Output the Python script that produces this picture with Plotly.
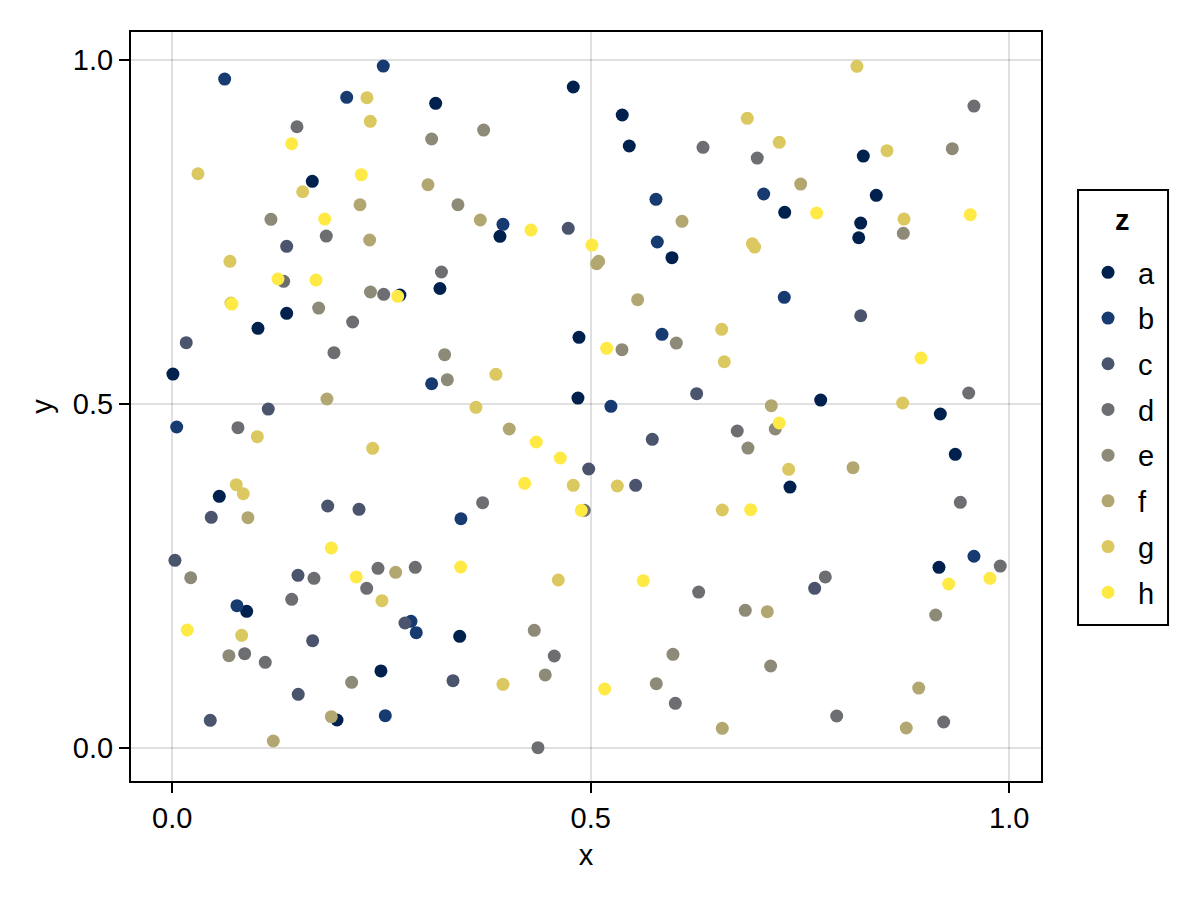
import plotly.graph_objects as go

categories = ["a", "b", "c", "d", "e", "f", "g", "h"]
colors = ["#00204D", "#173A70", "#4B546D", "#6C6E72", "#8E8A78", "#B3A771", "#DBC860", "#FFE945"]

x_a = [0.3147, 0.4791, 0.1673, 0.1367, 0.1024, 0.0008, 0.0562, 0.0889, 0.2493, 0.1968,
       0.5376, 0.5460, 0.3915, 0.5970, 0.3198, 0.2720, 0.4859, 0.4847, 0.8256, 0.8411,
       0.7317, 0.8225, 0.8201, 0.7747, 0.9176, 0.9355, 0.7380, 0.3434, 0.9160]
y_a = [0.9375, 0.9612, 0.8240, 0.6321, 0.6103, 0.5438, 0.3660, 0.1988, 0.1120, 0.0407,
       0.9205, 0.8754, 0.7441, 0.7130, 0.6682, 0.6587, 0.5972, 0.5089, 0.8608, 0.8037,
       0.7790, 0.7634, 0.7420, 0.5060, 0.4857, 0.4271, 0.3795, 0.1624, 0.2628]

x_b = [0.0626, 0.2521, 0.2084, 0.3099, 0.0053, 0.0773, 0.2852, 0.2915, 0.2545, 0.3951,
       0.5779, 0.5795, 0.7066, 0.7312, 0.5851, 0.5241, 0.3449, 0.9578]
y_b = [0.9728, 0.9917, 0.9462, 0.5297, 0.4668, 0.2069, 0.1842, 0.1677, 0.0470, 0.7615,
       0.7979, 0.7358, 0.8056, 0.6554, 0.6016, 0.4969, 0.3334, 0.2788]

x_c = [0.1367, 0.0167, 0.1147, 0.1857, 0.2231, 0.0466, 0.0032, 0.1502, 0.1677, 0.2780,
       0.1505, 0.0454, 0.4731, 0.6265, 0.5735, 0.4975, 0.5536, 0.8225, 0.3354, 0.7675]
y_c = [0.7295, 0.5894, 0.4929, 0.3519, 0.3471, 0.3355, 0.2729, 0.2511, 0.1560, 0.1818,
       0.0781, 0.0403, 0.7557, 0.5152, 0.4489, 0.4057, 0.3820, 0.6286, 0.0979, 0.2322]

x_d = [0.1490, 0.1840, 0.1331, 0.3216, 0.2526, 0.2155, 0.1932, 0.0785, 0.1693, 0.2458,
       0.2903, 0.2323, 0.1427, 0.0865, 0.1111, 0.6341, 0.6989, 0.9578, 0.6750, 0.3708,
       0.4922, 0.9515, 0.9415, 0.6289, 0.4564, 0.6010, 0.4369, 0.7802, 0.9892, 0.7938,
       0.9216]
y_d = [0.9034, 0.7445, 0.6786, 0.6922, 0.6597, 0.6195, 0.5748, 0.4658, 0.2468, 0.2613,
       0.2628, 0.2322, 0.2162, 0.1371, 0.1246, 0.8735, 0.8579, 0.9335, 0.4610, 0.3567,
       0.3456, 0.5162, 0.3573, 0.2268, 0.1338, 0.0650, 0.0004, 0.2487, 0.2646, 0.0465,
       0.0378]

x_e = [0.3099, 0.1179, 0.2368, 0.1749, 0.3254, 0.3286, 0.0220, 0.0677, 0.2143, 0.3720,
       0.3413, 0.9319, 0.8734, 0.6022, 0.5373, 0.7204, 0.6878, 0.4325, 0.4456, 0.5982,
       0.5783, 0.6846, 0.7149, 0.9121]
y_e = [0.8856, 0.7688, 0.6631, 0.6398, 0.5719, 0.5356, 0.2476, 0.1342, 0.0955, 0.8986,
       0.7900, 0.8715, 0.7484, 0.5889, 0.5792, 0.4639, 0.4362, 0.1711, 0.1062, 0.1362,
       0.0935, 0.2002, 0.1192, 0.1934]

x_f = [0.3055, 0.2243, 0.2358, 0.1848, 0.0904, 0.2669, 0.1900, 0.1207, 0.3680, 0.5070,
       0.5094, 0.6090, 0.7508, 0.5560, 0.4026, 0.7157, 0.8133, 0.6571, 0.7109, 0.8918,
       0.8769]
y_f = [0.8191, 0.7900, 0.7387, 0.5075, 0.3349, 0.2555, 0.0455, 0.0102, 0.7678, 0.7042,
       0.7077, 0.7659, 0.8201, 0.6519, 0.4639, 0.4978, 0.4076, 0.0286, 0.1982, 0.0872,
       0.0291]

x_g = [0.2326, 0.2366, 0.0307, 0.1558, 0.0689, 0.0701, 0.1016, 0.2394, 0.0765, 0.0848,
       0.2505, 0.0829, 0.8180, 0.6870, 0.7252, 0.8539, 0.8742, 0.6930, 0.6958, 0.6564,
       0.6595, 0.3867, 0.3628, 0.4791, 0.5317, 0.6571, 0.8726, 0.7364, 0.4612, 0.3951]
y_g = [0.9456, 0.9113, 0.8351, 0.8089, 0.7077, 0.6471, 0.4527, 0.4358, 0.3829, 0.3698,
       0.2142, 0.1639, 0.9913, 0.9157, 0.8808, 0.8686, 0.7692, 0.7333, 0.7285, 0.6088,
       0.5617, 0.5434, 0.4954, 0.3820, 0.3810, 0.3461, 0.5017, 0.4053, 0.2443, 0.0926]

x_h = [0.1427, 0.2258, 0.1821, 0.1263, 0.1717, 0.2693, 0.0713, 0.1900, 0.2198, 0.0179,
       0.4286, 0.5014, 0.7699, 0.9534, 0.5190, 0.4349, 0.4636, 0.4210, 0.4887, 0.8945,
       0.7252, 0.6910, 0.3446, 0.5627, 0.5166, 0.9276, 0.9769]
y_h = [0.8787, 0.8337, 0.7692, 0.6820, 0.6805, 0.6568, 0.6456, 0.2908, 0.2487, 0.1716,
       0.7532, 0.7314, 0.7780, 0.7755, 0.5812, 0.4450, 0.4217, 0.3849, 0.3456, 0.5671,
       0.4726, 0.3465, 0.2632, 0.2433, 0.0858, 0.2385, 0.2468]

xs = [x_a, x_b, x_c, x_d, x_e, x_f, x_g, x_h]
ys = [y_a, y_b, y_c, y_d, y_e, y_f, y_g, y_h]

tick_vals = [0.0, 0.5, 1.0]
tick_text = ["0.0", "0.5", "1.0"]

FONT = "Liberation Sans, Arial, sans-serif"
FS = 29

fig = go.Figure()
for cat, col, xv, yv in zip(categories, colors, xs, ys):
    fig.add_trace(go.Scatter(
        x=xv, y=yv, mode="markers", name=cat, legendgroup=cat,
        marker=dict(color=col, size=13, line=dict(width=0)),
    ))

axis_common = dict(
    showgrid=True, gridcolor="rgba(0,0,0,0.12)", gridwidth=2,
    zeroline=False, showline=True, mirror=True, linecolor="black", linewidth=2,
    ticks="outside", ticklen=10, tickwidth=2, tickcolor="black",
    tickvals=tick_vals, ticktext=tick_text,
    tickfont=dict(family=FONT, size=FS, color="black"),
)

fig.update_layout(
    width=1200, height=900,
    margin=dict(l=131, r=159, t=32, b=119, autoexpand=False),
    paper_bgcolor="white", plot_bgcolor="white",
    font=dict(family=FONT, size=FS, color="black"),
    xaxis=dict(range=[-0.0493, 1.0379],
               title=dict(text="x", font=dict(family=FONT, size=FS), standoff=12),
               **axis_common),
    yaxis=dict(range=[-0.048, 1.0412],
               title=dict(text="y", font=dict(family=FONT, size=FS), standoff=12),
               **axis_common),
    legend=dict(
        x=1.0407, xanchor="left", y=0.4653, yanchor="middle",
        borderwidth=0, bgcolor="rgba(0,0,0,0)",
        font=dict(family=FONT, size=FS, color="black"),
        tracegroupgap=5, traceorder="grouped",
        itemwidth=50,
    ),
    shapes=[dict(type="rect", xref="paper", yref="paper",
                 x0=1.0407, x1=1.1396, y0=0.2083, y1=0.7891,
                 line=dict(color="black", width=2), fillcolor="rgba(0,0,0,0)")],
    annotations=[dict(text="<b>z</b>", xref="paper", yref="paper",
                      x=1.0901, y=0.749, xanchor="center", yanchor="middle",
                      showarrow=False, font=dict(family=FONT, size=FS, color="black"))],
)

fig.write_html("out.html", config={"displayModeBar": False},
               post_script="document.body.style.margin='0';")
